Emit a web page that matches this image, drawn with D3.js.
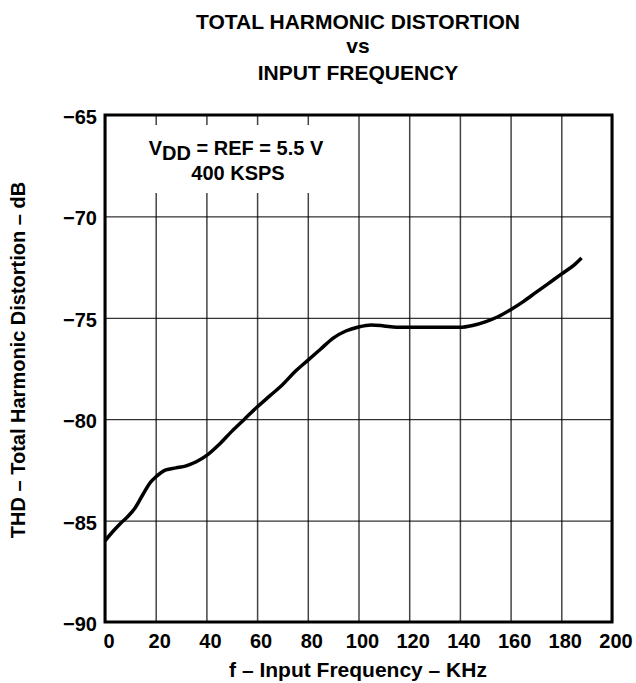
<!DOCTYPE html>
<html>
<head>
<meta charset="utf-8">
<script src="https://cdn.jsdelivr.net/npm/d3@7"></script>
<style>
  body { margin: 0; background: #fff; }
  text { font-family: "Liberation Sans", Arial, sans-serif; font-weight: bold; fill: #000; }
</style>
</head>
<body>
<div id="chart"></div>
<script>
// data
var freqKHz = [0, 3, 6, 9, 12, 15, 18, 20, 24, 28, 32, 36, 40, 45, 50, 55, 60, 65, 70, 75, 80, 85, 90, 95, 100, 105, 110, 115, 120, 130, 140, 145, 150, 155, 160, 165, 170, 175, 180, 185, 188];
var thdDb = [-86.0, -85.55, -85.15, -84.8, -84.35, -83.7, -83.1, -82.85, -82.5, -82.4, -82.3, -82.1, -81.8, -81.25, -80.6, -80.0, -79.4, -78.85, -78.3, -77.65, -77.1, -76.55, -76.0, -75.65, -75.45, -75.35, -75.4, -75.47, -75.47, -75.47, -75.47, -75.38, -75.2, -74.95, -74.6, -74.2, -73.75, -73.3, -72.85, -72.4, -72.05];
var xTicks = [0, 20, 40, 60, 80, 100, 120, 140, 160, 180, 200];
var yTicks = [-65, -70, -75, -80, -85, -90];
var titleLines = ['TOTAL HARMONIC DISTORTION', 'vs', 'INPUT FREQUENCY'];
var titleBaselines = [29, 53, 80];

(function() {
  var width = 636, height = 683;
  var pl = 105, pr = 612, pt = 115, pb = 622;

  var svg = d3.select('#chart').append('svg')
    .attr('width', width)
    .attr('height', height);

  svg.append('rect').attr('width', width).attr('height', height).attr('fill', '#fff');

  var x = d3.scaleLinear().domain([0, 200]).range([pl, pr]);
  var y = d3.scaleLinear().domain([-90, -65]).range([pb, pt]);

  // grid
  svg.append('g')
    .attr('transform', 'translate(0,' + pb + ')')
    .call(d3.axisBottom(x).tickValues(xTicks).tickSize(-(pb - pt)).tickFormat(''))
    .call(function(g) {
      g.select('.domain').remove();
      g.selectAll('line').attr('stroke', '#444').attr('stroke-width', 1.5);
    });

  svg.append('g')
    .attr('transform', 'translate(' + pl + ',0)')
    .call(d3.axisLeft(y).tickValues(yTicks).tickSize(-(pr - pl)).tickFormat(''))
    .call(function(g) {
      g.select('.domain').remove();
      g.selectAll('line').attr('stroke', '#000').attr('stroke-width', 1);
    });

  // annotation with white backing
  var note = svg.append('g');
  var noteText = note.append('text').attr('text-anchor', 'middle').style('font-size', '20px');
  var l1 = noteText.append('tspan').attr('x', 236).attr('y', 155);
  l1.append('tspan').text('V');
  l1.append('tspan').attr('dy', 4.5).text('DD');
  l1.append('tspan').attr('dy', -4.5).text(' = REF = 5.5 V');
  noteText.append('tspan').attr('x', 238).attr('y', 180).text('400 KSPS');
  var bb = noteText.node().getBBox();
  note.insert('rect', 'text')
    .attr('x', bb.x - 12).attr('y', 125)
    .attr('width', bb.width + 24).attr('height', 68)
    .attr('fill', '#fff');

  // curve
  var line = d3.line()
    .x(function(d, i) { return x(freqKHz[i]); })
    .y(function(d) { return y(d); })
    .curve(d3.curveMonotoneX);

  svg.append('path')
    .datum(thdDb)
    .attr('d', line)
    .attr('fill', 'none')
    .attr('stroke', '#000')
    .attr('stroke-width', 3.5)
    .attr('stroke-linejoin', 'round');

  // frame
  svg.append('rect')
    .attr('x', pl).attr('y', pt)
    .attr('width', pr - pl).attr('height', pb - pt)
    .attr('fill', 'none').attr('stroke', '#000').attr('stroke-width', 3);

  // tick labels
  svg.append('g').selectAll('text')
    .data(xTicks).enter().append('text')
    .attr('x', function(d) { return x(d) + 4; })
    .attr('y', 648)
    .attr('text-anchor', 'middle')
    .style('font-size', '20px')
    .text(function(d) { return d; });

  svg.append('g').selectAll('text')
    .data(yTicks).enter().append('text')
    .attr('x', 97)
    .attr('y', function(d) { return y(d) + 9; })
    .attr('text-anchor', 'end')
    .style('font-size', '20px')
    .text(function(d) { return '\u2212' + Math.abs(d); });

  // axis titles
  svg.append('text')
    .attr('x', 358).attr('y', 677)
    .attr('text-anchor', 'middle')
    .style('font-size', '21px')
    .text('f \u2013 Input Frequency \u2013 KHz');

  svg.append('text')
    .attr('transform', 'translate(25,360) rotate(-90)')
    .attr('text-anchor', 'middle')
    .style('font-size', '20px')
    .text('THD \u2013 Total Harmonic Distortion \u2013 dB');

  // title
  svg.append('g').selectAll('text')
    .data(titleLines).enter().append('text')
    .attr('x', 358)
    .attr('y', function(d, i) { return titleBaselines[i]; })
    .attr('text-anchor', 'middle')
    .style('font-size', '21px')
    .text(function(d) { return d; });
})();
</script>
</body>
</html>
